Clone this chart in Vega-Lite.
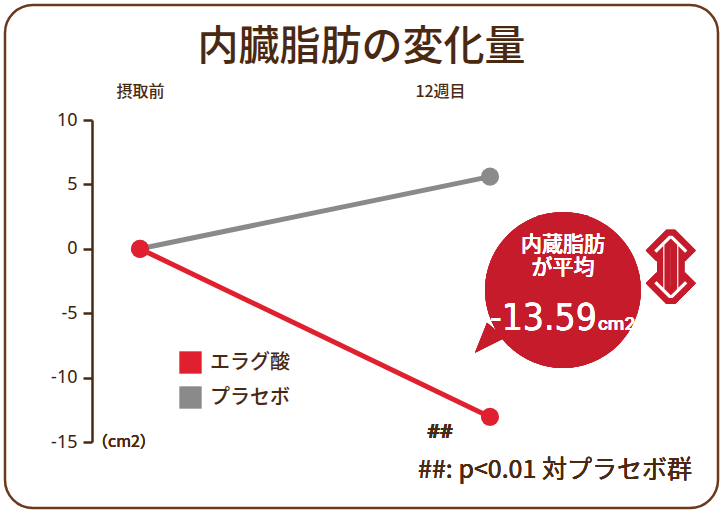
{
  "$schema": "https://vega.github.io/schema/vega-lite/v6.json",
  "autosize": {"type": "none"},
  "width": 713,
  "height": 503,
  "padding": {"left": 5, "top": 5, "right": 6, "bottom": 6},
  "background": "white",
  "config": {
    "view": {"stroke": "#6b3a1c", "strokeWidth": 2.5, "cornerRadius": 28},
    "font": "Noto Sans CJK JP"
  },
  "title": {
    "text": "内臓脂肪の変化量",
    "fontSize": 41,
    "fontWeight": 500,
    "color": "#4a2912",
    "anchor": "middle",
    "frame": "group",
    "offset": -64,
    "font": "Noto Sans CJK JP"
  },
  "data": {
    "values": [
      {"group": "エラグ酸", "week": 0, "change": 0},
      {"group": "エラグ酸", "week": 12, "change": -13.05},
      {"group": "プラセボ", "week": 0, "change": 0},
      {"group": "プラセボ", "week": 12, "change": 5.6}
    ]
  },
  "encoding": {
    "x": {
      "field": "week",
      "type": "quantitative",
      "scale": {"domain": [0, 12], "range": [135, 485], "nice": false, "zero": false},
      "axis": {
        "orient": "top",
        "values": [0, 12],
        "labelExpr": "datum.value == 0 ? '摂取前' : '12週目'",
        "labelFlush": false,
        "title": null,
        "grid": false,
        "domain": false,
        "ticks": false,
        "tickSize": 0,
        "labelPadding": 0,
        "offset": -94,
        "labelFontSize": 16,
        "labelFontWeight": 500,
        "labelColor": "#4a2912",
        "labelOffset": {"condition": {"test": "datum.value == 12", "value": -50}, "value": 0}
      }
    },
    "y": {
      "field": "change",
      "type": "quantitative",
      "scale": {"domain": [-15, 10], "range": [437, 115], "nice": false, "zero": false},
      "axis": {
        "orient": "left",
        "values": [-15, -10, -5, 0, 5, 10],
        "labelExpr": "'' + datum.value",
        "title": null,
        "grid": false,
        "offset": -87,
        "domainColor": "#4a2912",
        "domainWidth": 2.5,
        "tickColor": "#4a2912",
        "tickWidth": 2.5,
        "tickSize": 9,
        "labelPadding": 6,
        "labelFontSize": 18,
        "labelColor": "#3a2010",
        "labelFont": "Noto Sans"
      }
    }
  },
  "layer": [
    {
      "mark": {"type": "line", "strokeWidth": 5},
      "encoding": {
        "stroke": {
          "field": "group",
          "type": "nominal",
          "scale": {"domain": ["エラグ酸", "プラセボ"], "range": ["#e0202f", "#8a8a8a"]}
        }
      }
    },
    {
      "mark": {"type": "point", "filled": true, "opacity": 1, "size": 330},
      "encoding": {
        "color": {
          "field": "group",
          "type": "nominal",
          "scale": {"domain": ["エラグ酸", "プラセボ"], "range": ["#e0202f", "#8a8a8a"]},
          "legend": {
            "orient": "none",
            "legendX": 174,
            "legendY": 346,
            "title": null,
            "symbolType": "square",
            "symbolSize": 500,
            "symbolStrokeWidth": 0,
            "symbolOpacity": 1,
            "labelFontSize": 20,
            "labelFontWeight": 500,
            "labelColor": "#4a2912",
            "labelOffset": 8,
            "rowPadding": 12,
            "padding": 0,
            "offset": 0
          }
        },
        "order": {"field": "group", "sort": "descending"}
      }
    },
    {
      "mark": {"type": "point", "filled": true, "opacity": 1, "size": 24300, "color": "#c61b2b", "shape": "circle"},
      "encoding": {"x": {"datum": 14.5}, "y": {"datum": -3.2}}
    },
    {
      "mark": {"type": "point", "filled": true, "opacity": 1, "size": 900, "color": "#c61b2b", "shape": "M-1,1L-0.2,-1L1,0Z"},
      "encoding": {"x": {"datum": 12}, "y": {"datum": -6.9}}
    },
    {
      "mark": {"type": "text", "text": "⇕", "fontSize": 92, "font": "DejaVu Sans", "fontWeight": "bold", "color": "white", "stroke": "#c61b2b", "strokeWidth": 6, "align": "center", "baseline": "middle"},
      "encoding": {"x": {"datum": 18.2}, "y": {"datum": -1.8}}
    },
    {
      "mark": {"type": "text", "text": "内蔵脂肪", "fontSize": 21, "fontWeight": 500, "color": "white", "align": "center", "baseline": "middle"},
      "encoding": {"x": {"datum": 14.5}, "y": {"datum": 0.3}}
    },
    {
      "mark": {"type": "text", "text": "が平均", "fontSize": 21, "fontWeight": 500, "color": "white", "align": "center", "baseline": "middle"},
      "encoding": {"x": {"datum": 14.5}, "y": {"datum": -1.5}}
    },
    {
      "mark": {"type": "text", "text": "-13.59", "fontSize": 37, "fontWeight": 500, "font": "DejaVu Sans Condensed, Roboto", "color": "white", "align": "right", "baseline": "alphabetic", "dx": 34},
      "encoding": {"x": {"datum": 14.5}, "y": {"datum": -6.3}}
    },
    {
      "mark": {"type": "text", "text": "cm2", "fontSize": 19, "fontWeight": 500, "font": "Roboto", "color": "white", "align": "left", "baseline": "alphabetic", "dx": 35},
      "encoding": {"x": {"datum": 14.5}, "y": {"datum": -6.3}}
    },
    {
      "mark": {"type": "text", "text": "##", "fontSize": 20, "fontWeight": "bold", "color": "#4a2912", "align": "center", "baseline": "middle", "font": "Noto Sans"},
      "encoding": {"x": {"datum": 10.29}, "y": {"datum": -14.2}}
    },
    {
      "mark": {"type": "text", "text": "##: p<0.01 対プラセボ群", "fontSize": 25, "fontWeight": "normal", "color": "#4a2912", "align": "center", "baseline": "middle"},
      "encoding": {"x": {"datum": 14.23}, "y": {"datum": -17.17}}
    },
    {
      "mark": {"type": "text", "text": "（cm2）", "fontSize": 16, "fontWeight": "normal", "color": "#4a2912", "align": "left", "baseline": "middle", "dx": -6},
      "encoding": {"x": {"datum": -1.44}, "y": {"datum": -15}}
    }
  ]
}
